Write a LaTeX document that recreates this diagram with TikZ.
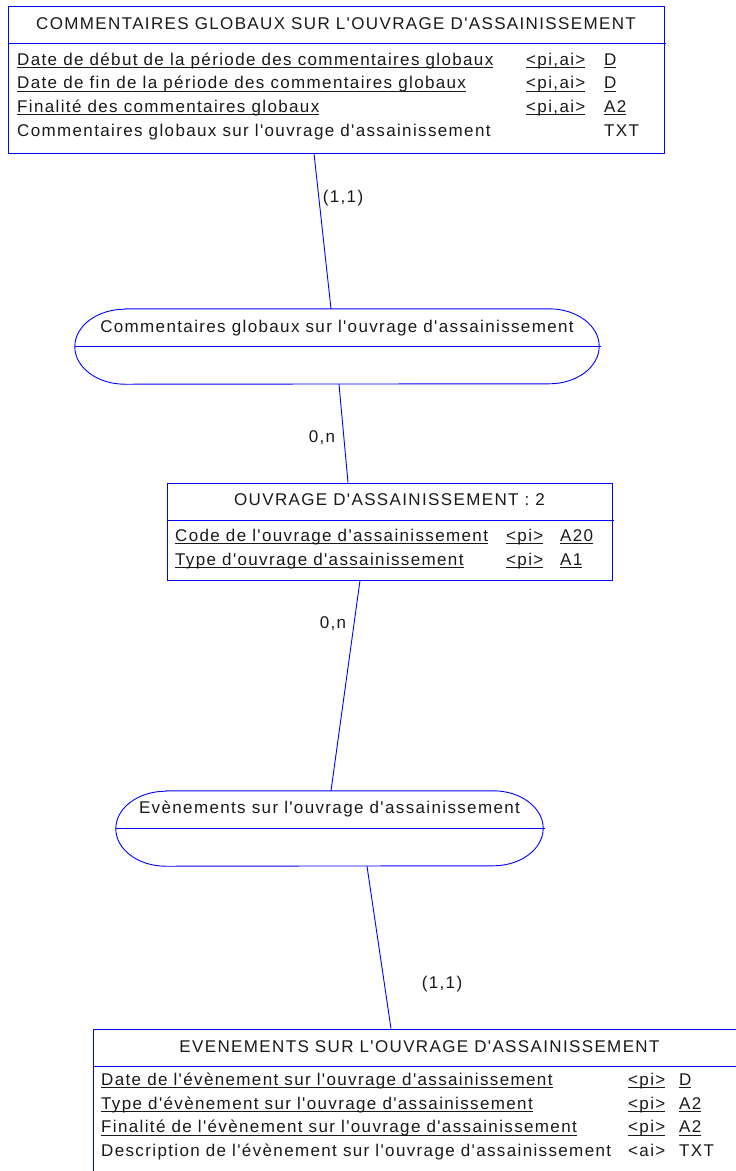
\documentclass[tikz,border=0pt]{standalone}
\usepackage{fontspec}
\setmainfont{Liberation Sans}[LetterSpace=8, Ligatures=TeXOff]
\definecolor{merise}{RGB}{0,0,255}
\definecolor{ink}{RGB}{25,25,25}
% underlined attribute text (identifier / key columns)
\newcommand\keyattr[1]{\setbox0\hbox{#1}\rlap{\rule[-2.7pt]{\wd0}{0.9pt}}\box0}
\tikzset{
  link/.style={draw=merise, line width=0.9pt},
  entbox/.style={draw=merise, line width=0.9pt, rectangle, inner sep=0pt},
  assocbox/.style={inner sep=0pt, minimum height=75pt},
  txt/.style={inner sep=0pt, anchor=base west, text=ink},
  ttl/.style={inner sep=0pt, anchor=base, text=ink},
  card/.style={inner sep=0pt, text=ink},
}
\begin{document}
\begin{tikzpicture}[x=1pt, y=1pt, font=\fontsize{17}{20}\selectfont]
\useasboundingbox (0,0) rectangle (736,-1171);
\clip (0,0) rectangle (736,-1171);

% ---------- entity: commentaires globaux ----------
\node[entbox, minimum width=656pt, minimum height=147pt] (e1) at (336,-79.5) {};
\draw[link] (8,-43) coordinate (e1sl) -- (666,-43) coordinate (e1sr);
\node[ttl] (e1t) at (336,-29) {COMMENTAIRES GLOBAUX SUR L'OUVRAGE D'ASSAINISSEMENT};
\node[txt] (e1a1) at (17,-65) {\keyattr{Date de début de la période des commentaires globaux}};
\node[txt] (e1k1) at (526,-65) {\keyattr{<pi,ai>}};
\node[txt] (e1d1) at (604,-65) {\keyattr{D}};
\node[txt] (e1a2) at (17,-88.7) {\keyattr{Date de fin de la période des commentaires globaux}};
\node[txt] (e1k2) at (526,-88.7) {\keyattr{<pi,ai>}};
\node[txt] (e1d2) at (604,-88.7) {\keyattr{D}};
\node[txt] (e1a3) at (17,-112.4) {\keyattr{Finalité des commentaires globaux}};
\node[txt] (e1k3) at (526,-112.4) {\keyattr{<pi,ai>}};
\node[txt] (e1d3) at (604,-112.4) {\keyattr{A2}};
\node[txt] (e1a4) at (17,-136.1) {Commentaires globaux sur l'ouvrage d'assainissement};
\node[txt] (e1d4) at (604,-136.1) {TXT};

% ---------- association: commentaires globaux ----------
\node[assocbox, minimum width=524pt] (a1) at (337,-346.5) {};
\draw[link] ([xshift=50pt]a1.north west) -- ([xshift=-50pt]a1.north east)
  arc[start angle=90, end angle=-90, x radius=50pt, y radius=37.5pt]
  -- ([xshift=50pt]a1.south west)
  arc[start angle=270, end angle=90, x radius=50pt, y radius=37.5pt] -- cycle;
\draw[link] (a1.west) -- ([xshift=2pt]a1.east);
\node[ttl] (a1t) at (337,-332) {Commentaires globaux sur l'ouvrage d'assainissement};

% ---------- entity: ouvrage d'assainissement ----------
\node[entbox, minimum width=445pt, minimum height=97pt] (e2) at (389.5,-531.5) {};
\draw[link] (167,-520) coordinate (e2sl) -- (614,-520) coordinate (e2sr);
\node[ttl] (e2t) at (389.5,-505) {OUVRAGE D'ASSAINISSEMENT : 2};
\node[txt] (e2a1) at (175,-541) {\keyattr{Code de l'ouvrage d'assainissement}};
\node[txt] (e2k1) at (506,-541) {\keyattr{<pi>}};
\node[txt] (e2d1) at (560,-541) {\keyattr{A20}};
\node[txt] (e2a2) at (175,-565) {\keyattr{Type d'ouvrage d'assainissement}};
\node[txt] (e2k2) at (506,-565) {\keyattr{<pi>}};
\node[txt] (e2d2) at (560,-565) {\keyattr{A1}};

% ---------- association: evenements ----------
\node[assocbox, minimum width=427pt] (a2) at (329.5,-828.5) {};
\draw[link] ([xshift=50pt]a2.north west) -- ([xshift=-50pt]a2.north east)
  arc[start angle=90, end angle=-90, x radius=50pt, y radius=37.5pt]
  -- ([xshift=50pt]a2.south west)
  arc[start angle=270, end angle=90, x radius=50pt, y radius=37.5pt] -- cycle;
\draw[link] (a2.west) -- ([xshift=2pt]a2.east);
\node[ttl] (a2t) at (329.5,-813) {Evènements sur l'ouvrage d'assainissement};

% ---------- entity: evenements sur l'ouvrage ----------
\node[entbox, minimum width=653pt, minimum height=171pt] (e3) at (419.5,-1114.5) {};
\draw[link] (93,-1066) coordinate (e3sl) -- (746,-1066) coordinate (e3sr);
\node[ttl] (e3t) at (419.5,-1052) {EVENEMENTS SUR L'OUVRAGE D'ASSAINISSEMENT};
\node[txt] (e3a1) at (101,-1085) {\keyattr{Date de l'évènement sur l'ouvrage d'assainissement}};
\node[txt] (e3k1) at (628,-1085) {\keyattr{<pi>}};
\node[txt] (e3d1) at (679,-1085) {\keyattr{D}};
\node[txt] (e3a2) at (101,-1109) {\keyattr{Type d'évènement sur l'ouvrage d'assainissement}};
\node[txt] (e3k2) at (628,-1109) {\keyattr{<pi>}};
\node[txt] (e3d2) at (679,-1109) {\keyattr{A2}};
\node[txt] (e3a3) at (101,-1132.7) {\keyattr{Finalité de l'évènement sur l'ouvrage d'assainissement}};
\node[txt] (e3k3) at (628,-1132.7) {\keyattr{<pi>}};
\node[txt] (e3d3) at (679,-1132.7) {\keyattr{A2}};
\node[txt] (e3a4) at (101,-1156) {Description de l'évènement sur l'ouvrage d'assainissement};
\node[txt] (e3k4) at (628,-1156) {<ai>};
\node[txt] (e3d4) at (679,-1156) {TXT};

% ---------- links ----------
\draw[link] ([xshift=-22pt]e1.south) -- ([xshift=-6pt]a1.north);
\draw[link] ([xshift=2pt]a1.south) -- ([xshift=-41.5pt]e2.north);
\draw[link] ([xshift=-29.5pt]e2.south) -- ([xshift=1.5pt]a2.north);
\draw[link] ([xshift=37.5pt]a2.south) -- ([xshift=-28.5pt]e3.north);

% ---------- cardinalities ----------
\node[card] (c1) at (343,-198) {(1,1)};
\node[card] (c2) at (322,-438) {0,n};
\node[card] (c3) at (333,-624) {0,n};
\node[card] (c4) at (442,-984) {(1,1)};
\end{tikzpicture}
\end{document}
